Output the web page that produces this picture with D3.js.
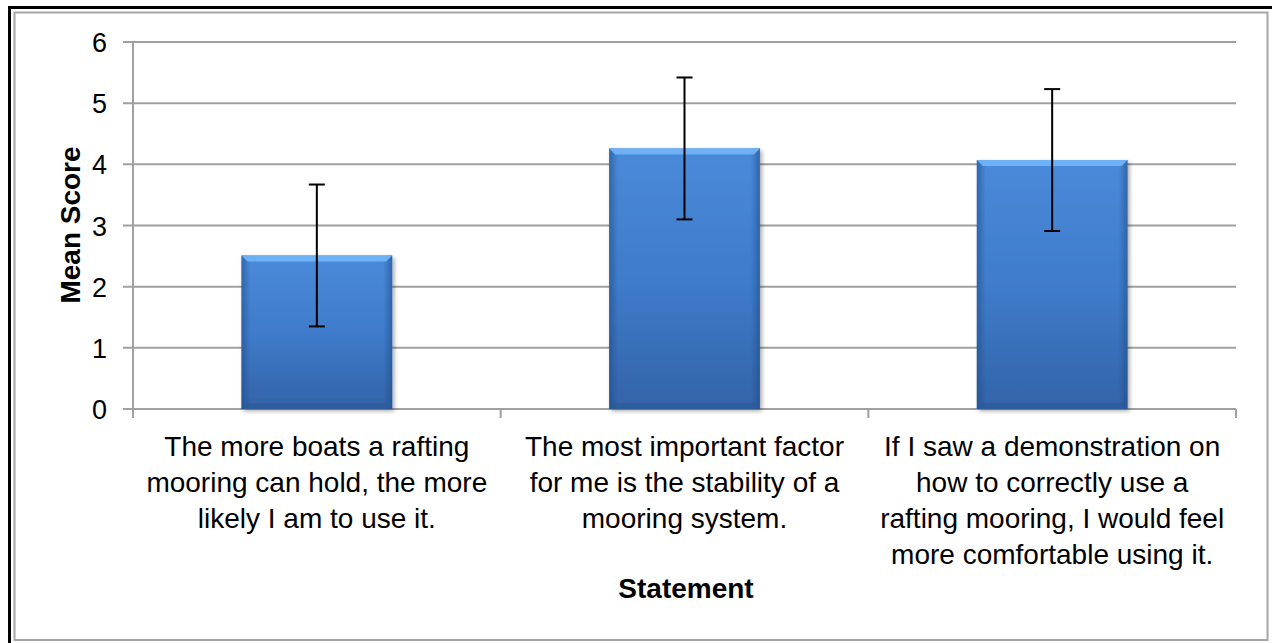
<!DOCTYPE html>
<html><head><meta charset="utf-8">
<script src="https://cdn.jsdelivr.net/npm/d3@7"></script>
<style>body{margin:0;background:#fff}svg{display:block}text{font-family:"Liberation Sans",Arial,sans-serif;fill:#000}</style>
</head><body><svg id="c" width="1272" height="643"></svg>
<script>
const categories = [
  ["The more boats a rafting","mooring can hold, the more","likely I am to use it."],
  ["The most important factor","for me is the stability of a","mooring system."],
  ["If I saw a demonstration on","how to correctly use a","rafting mooring, I would feel","more comfortable using it."]
];
const means = [2.51, 4.26, 4.07];
const errors = [1.16, 1.16, 1.16];
const yTicks = [0,1,2,3,4,5,6];
const yTitle = "Mean Score";
const xTitle = "Statement";

const svg = d3.select("#c");
const W=1272,H=643;
svg.append("rect").attr("width",W).attr("height",H).attr("fill","#fff");
// frame
svg.append("line").attr("x1",9.5).attr("x2",9.5).attr("y1",6).attr("y2",643).attr("stroke","#000").attr("stroke-width",3);
svg.append("line").attr("x1",8).attr("x2",1272).attr("y1",7.5).attr("y2",7.5).attr("stroke","#000").attr("stroke-width",3);
svg.append("rect").attr("x",14.5).attr("y",12.5).attr("width",1253).attr("height",627.5).attr("fill","none").attr("stroke","#a6a6a6").attr("stroke-width",2);

const m={l:133,r:1236,t:42,b:409};
const x=d3.scaleBand().domain(d3.range(categories.length)).range([m.l,m.r]).paddingInner(0.59).paddingOuter(0.295);
const xc=d3.scaleBand().domain(d3.range(categories.length)).range([m.l,m.r]);
const y=d3.scaleLinear().domain([0,6]).range([m.b,m.t]);

const defs=svg.append("defs");
const gv=defs.append("linearGradient").attr("id","gv").attr("x1",0).attr("x2",0).attr("y1",0).attr("y2",1);
gv.append("stop").attr("offset",0).attr("stop-color","#4a8ada");
gv.append("stop").attr("offset",0.5).attr("stop-color","#3f7ccb");
gv.append("stop").attr("offset",1).attr("stop-color","#3363a8");
const gh=defs.append("linearGradient").attr("id","gh").attr("x1",0).attr("x2",1).attr("y1",0).attr("y2",0);
gh.append("stop").attr("offset",0).attr("stop-color","#1d4a86").attr("stop-opacity",0.55);
gh.append("stop").attr("offset",0.06).attr("stop-color","#1d4a86").attr("stop-opacity",0.0);
gh.append("stop").attr("offset",0.94).attr("stop-color","#1d4a86").attr("stop-opacity",0.0);
gh.append("stop").attr("offset",1).attr("stop-color","#1d4a86").attr("stop-opacity",0.55);
const sh=defs.append("filter").attr("id","sh").attr("x","-10%").attr("y","-10%").attr("width","130%").attr("height","130%");
sh.append("feGaussianBlur").attr("in","SourceAlpha").attr("stdDeviation",2);
sh.append("feOffset").attr("dx",2).attr("dy",2).attr("result","o");
sh.append("feComponentTransfer").append("feFuncA").attr("type","linear").attr("slope",0.35);
const mg=sh.append("feMerge");mg.append("feMergeNode");mg.append("feMergeNode").attr("in","SourceGraphic");

// gridlines
svg.append("g").selectAll("line").data(yTicks).join("line")
  .attr("x1",m.l-10).attr("x2",m.r).attr("y1",d=>y(d)).attr("y2",d=>y(d))
  .attr("stroke","#a0a0a0").attr("stroke-width",2);
// y axis
svg.append("line").attr("x1",m.l).attr("x2",m.l).attr("y1",m.t).attr("y2",m.b+1).attr("stroke","#a0a0a0").attr("stroke-width",2);
svg.append("g").selectAll("text").data(yTicks).join("text")
  .attr("x",107).attr("y",d=>y(d)+10).attr("text-anchor","end").style("font-size","27px").text(d=>d);
// x category ticks
svg.append("g").selectAll("line").data(d3.range(categories.length+1)).join("line")
  .attr("x1",i=>i<categories.length?xc(i):m.r).attr("x2",i=>i<categories.length?xc(i):m.r)
  .attr("y1",m.b).attr("y2",m.b+9).attr("stroke","#a0a0a0").attr("stroke-width",2);

// bars
const bars=svg.append("g").selectAll("g").data(means).join("g");
bars.append("rect").attr("x",(d,i)=>x(i)).attr("y",d=>y(d)).attr("width",x.bandwidth()).attr("height",d=>y(0)-y(d))
  .attr("fill","url(#gv)").attr("filter","url(#sh)");
bars.append("rect").attr("x",(d,i)=>x(i)).attr("y",d=>y(d)).attr("width",x.bandwidth()).attr("height",d=>y(0)-y(d))
  .attr("fill","url(#gh)");
const bv=6;
bars.append("path").attr("d",(d,i)=>{const x0=x(i),x1=x0+x.bandwidth(),y0=y(d);
  return `M${x0},${y0}L${x1},${y0}L${x1-bv},${y0+bv}L${x0+bv},${y0+bv}Z`;}).attr("fill","#72b3f7").attr("opacity",0.95);
bars.append("path").attr("d",(d,i)=>{const x0=x(i),x1=x0+x.bandwidth(),y1=y(0);
  return `M${x0},${y1}L${x1},${y1}L${x1-bv},${y1-bv}L${x0+bv},${y1-bv}Z`;}).attr("fill","#2c5a98").attr("opacity",0.6);

// error bars
const eb=svg.append("g").selectAll("g").data(means).join("g").attr("stroke","#000").attr("stroke-width",2);
eb.append("line").attr("x1",(d,i)=>x(i)+x.bandwidth()/2).attr("x2",(d,i)=>x(i)+x.bandwidth()/2)
  .attr("y1",(d,i)=>y(d+errors[i])).attr("y2",(d,i)=>y(d-errors[i]));
eb.append("line").attr("x1",(d,i)=>x(i)+x.bandwidth()/2-8).attr("x2",(d,i)=>x(i)+x.bandwidth()/2+8)
  .attr("y1",(d,i)=>y(d+errors[i])).attr("y2",(d,i)=>y(d+errors[i]));
eb.append("line").attr("x1",(d,i)=>x(i)+x.bandwidth()/2-8).attr("x2",(d,i)=>x(i)+x.bandwidth()/2+8)
  .attr("y1",(d,i)=>y(d-errors[i])).attr("y2",(d,i)=>y(d-errors[i]));

// category labels
const cl=svg.append("g").selectAll("text").data(categories).join("text")
  .attr("text-anchor","middle").style("font-size","28px");
cl.each(function(lines,i){
  d3.select(this).selectAll("tspan").data(lines).join("tspan")
   .attr("x",xc(i)+xc.bandwidth()/2).attr("y",(l,j)=>456+j*36).text(l=>l);
});

svg.append("text").attr("transform","translate(80,225) rotate(-90)").attr("text-anchor","middle")
  .style("font-size","28px").style("font-weight","bold").text(yTitle);
svg.append("text").attr("x",686).attr("y",598).attr("text-anchor","middle")
  .style("font-size","28px").style("font-weight","bold").text(xTitle);
</script></body></html>
